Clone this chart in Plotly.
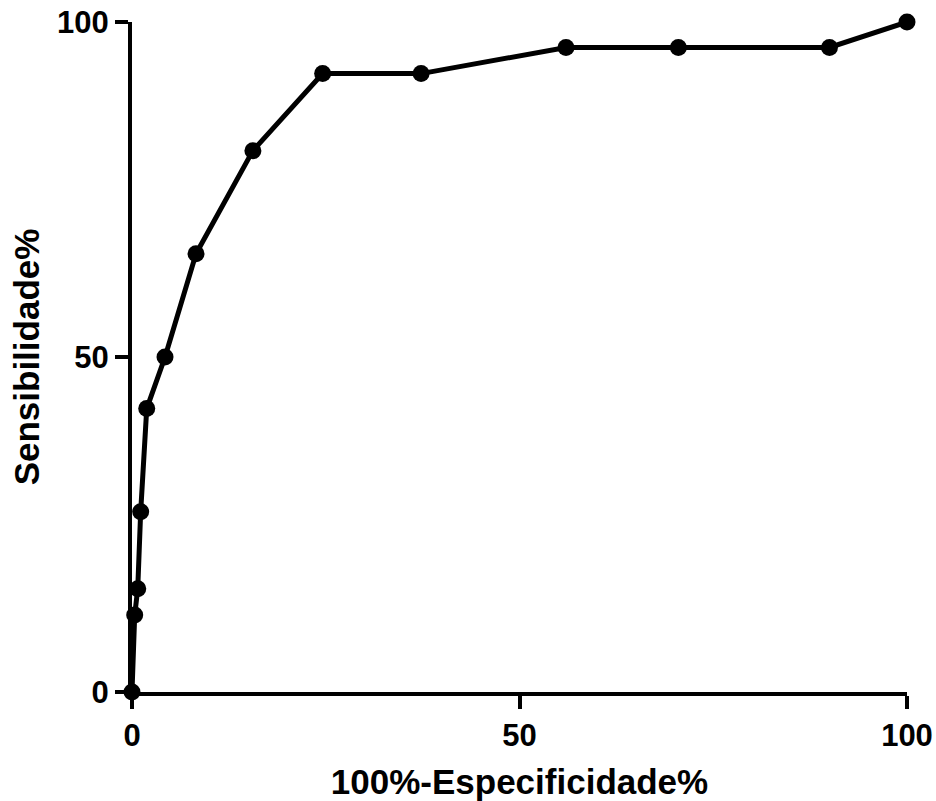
import plotly.graph_objects as go

fpr = [0, 0.35, 0.74, 1.12, 1.9, 4.26, 8.26, 15.6, 24.6, 37.3, 56.0, 70.5, 90.0, 100]
sens = [0, 11.5, 15.4, 26.9, 42.3, 50.0, 65.4, 80.8, 92.3, 92.3, 96.2, 96.2, 96.2, 100]
ticks = [0, 50, 100]

FONT = "Liberation Sans, Arial, sans-serif"

fig = go.Figure(go.Scatter(
    x=fpr, y=sens, mode="lines+markers",
    line=dict(color="black", width=5),
    marker=dict(color="black", size=17),
    cliponaxis=False, showlegend=False,
))

axis_common = dict(
    showgrid=False, zeroline=False, showline=True, linecolor="black", linewidth=4,
    ticks="outside", ticklen=13, tickwidth=4, tickcolor="black",
    tickvals=ticks, ticktext=[str(t) for t in ticks],
    tickfont=dict(family=FONT, size=31, color="black", weight="bold"),
    range=[0, 100], automargin=False, ticklabeloverflow="allow",
)

fig.update_layout(
    width=936, height=801,
    margin=dict(l=132, r=29, t=22, b=109),
    plot_bgcolor="white", paper_bgcolor="white",
    xaxis=dict(**axis_common,
               title=dict(text="100%-Especificidade%", standoff=23,
                          font=dict(family=FONT, size=35, color="black", weight="bold"))),
    yaxis=dict(**axis_common,
               title=dict(text="Sensibilidade%", standoff=8,
                          font=dict(family=FONT, size=35, color="black", weight="bold"))),
)

fig.write_html(
    "out.html",
    config={"displayModeBar": False},
    post_script="document.body.style.margin='0';document.body.style.overflow='hidden';",
)
